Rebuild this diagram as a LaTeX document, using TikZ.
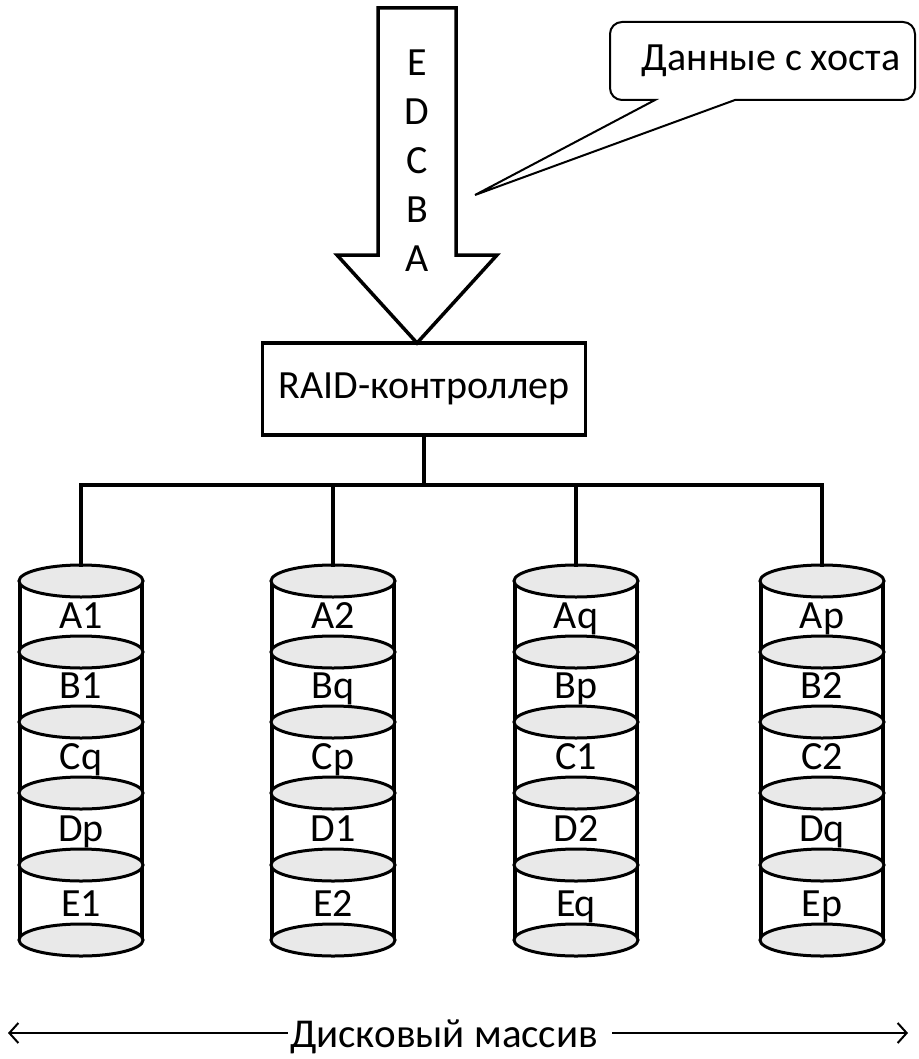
\documentclass[tikz,border=0pt]{standalone}
\usepackage{fontspec}
\setmainfont{Carlito}
\usetikzlibrary{arrows.meta,positioning}

\begin{document}
\begin{tikzpicture}[x=1pt, y=-1pt,
    thickline/.style={line width=3.5pt},
    platter/.style={line width=3pt, fill=gray!17},
    lbl/.style={font=\fontsize{40}{48}\selectfont, inner sep=2pt},
    ctrl/.style={rectangle, draw, thickline, minimum width=323pt, minimum height=92pt, font=\fontsize{40}{48}\selectfont},
    span/.style={-{Straight Barb[length=9pt, width=20pt]}, line width=2pt},
]
\useasboundingbox (0,0) rectangle (918,1059);

% data stream from the host
\draw[thickline, line join=miter] (378,8) -- (378,255) -- (337,255) -- (417,343)
    -- (497,255) -- (456,255) -- (456,8) -- cycle;
\node[align=center, font=\fontsize{40}{49}\selectfont] (stream) at (417,161) {E\\D\\C\\B\\A};

% callout
\node[lbl] (host) at (771,61) {Данные с хоста};
\draw[line width=2pt] (655,100) [rounded corners=12pt] -- (610,100) -- (610,22) -- (915,22)
    -- (915,100) [sharp corners] -- (735,100) -- (475,195) -- cycle;

% controller and bus
\node[ctrl] (raid) at (424,389) {RAID-контроллер};
\coordinate (bus) at (424,485);
\draw[thickline] (raid.south) -- (bus);

% disks
\foreach \n/\cx/\la/\lb/\lc/\ld/\le in {1/81/A1/B1/Cq/Dp/E1, 2/333/A2/Bq/Cp/D1/E2,
    3/576/Aq/Bp/C1/D2/Eq, 4/822/Ap/B2/C2/Dq/Ep}{
  \coordinate (disk\n) at (\cx,565);
  \draw[thickline] (\cx-61,581) -- (\cx-61,940) (\cx+61,581) -- (\cx+61,940);
  \foreach \y in {581,652,722,793,865,940}
    \draw[platter] (\cx,\y) ellipse [x radius=62pt, y radius=16pt];
  \foreach \t/\yb [count=\i] in {\la/628, \lb/698, \lc/769, \ld/841, \le/916}
    \node[lbl, anchor=base] (disk\n-\i) at (\cx,\yb) {\t};
  \draw[thickline, line cap=rect] (disk\n) -- (disk\n |- bus);
}
\draw[thickline, line cap=rect] (disk1 |- bus) -- (disk4 |- bus);

% disk array span
\node[lbl, font=\fontsize{41}{48}\selectfont] (array) at (444,1037) {Дисковый массив};
\coordinate (arrL) at (8,1033);
\coordinate (arrR) at (908,1033);
\draw[span] (array.west |- arrL) -- (arrL);
\draw[span] ([xshift=12pt]array.east |- arrR) -- (arrR);
\end{tikzpicture}
\end{document}
